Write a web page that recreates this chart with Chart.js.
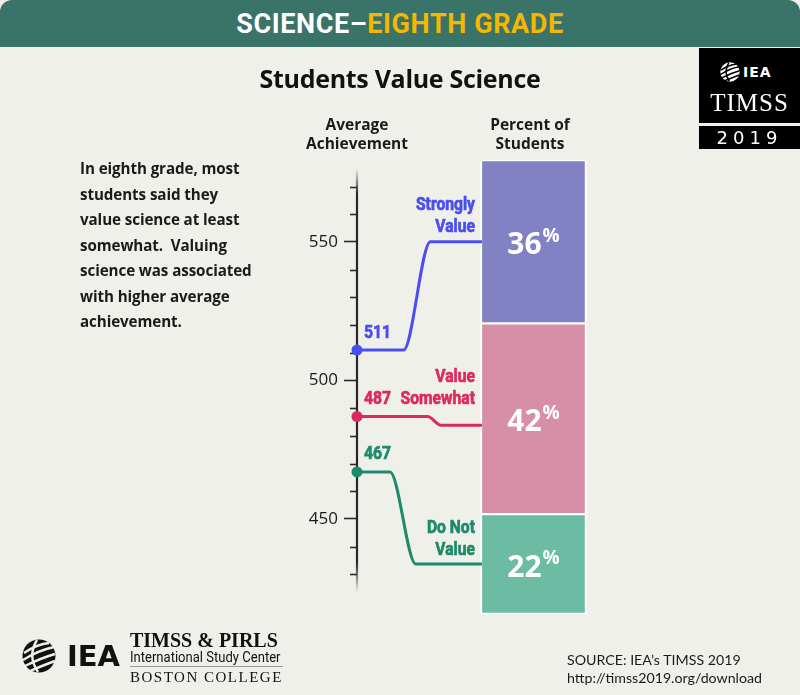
<!DOCTYPE html>
<html><head><meta charset="utf-8">
<script src="https://cdn.jsdelivr.net/npm/chart.js@4.4.1/dist/chart.umd.min.js"></script>
<style>
html,body{margin:0;padding:0;background:#f0f0eb;}
#wrap{position:relative;width:800px;height:695px;overflow:hidden;background:#f0f0eb;font-family:"Open Sans",sans-serif;color:#1a1a1a}
#chartBox{position:absolute;left:0;top:0;width:800px;height:695px}
.abs{position:absolute;white-space:nowrap}
#header{left:0;top:0;width:800px;height:47px;background:#3a7367;border-radius:12px 12px 0 0;text-align:center;line-height:48px;font-family:Roboto,sans-serif;font-weight:bold;font-size:27px;letter-spacing:0.6px;color:#fff}
#header .gold{color:#f6b700}
#title{left:0;width:800px;top:62px;text-align:center;font-weight:700;font-size:25px;line-height:32px;color:#111;letter-spacing:-0.3px}
.colhead{font-weight:700;font-size:15.5px;line-height:19px;text-align:center;width:160px;color:#1a1a1a}
#para{left:80px;top:156px;font-weight:700;font-size:15.2px;line-height:25.5px;color:#1a1a1a;letter-spacing:-0.1px}
#logoBox{left:699px;top:48px;width:101px;height:75px;background:#000;color:#fff}
#logoBox2{left:699px;top:126px;width:101px;height:23px;background:#000;color:#fff;text-align:center;font-family:"DejaVu Sans",sans-serif;font-size:18px;line-height:23px;letter-spacing:5px;font-weight:500}
#src{left:567px;top:651px;font-size:14.2px;line-height:18px;color:#1a1a1a;font-family:"Lato",sans-serif}
.narrow{display:inline-block;transform-origin:0 50%}
</style></head>
<body>
<div id="wrap">
  <div id="chartBox"><canvas id="c"></canvas></div>

  <div id="header" class="abs">SCIENCE–<span class="gold">EIGHTH GRADE</span></div>
  <div id="title" class="abs">Students Value Science</div>
  <div class="abs colhead" style="left:277px;top:115px">Average<br>Achievement</div>
  <div class="abs colhead" style="left:450px;top:115px">Percent of<br>Students</div>
  <div id="para" class="abs">In eighth grade, most<br>students said they<br>value science at least<br>somewhat.&nbsp; Valuing<br>science was associated<br>with higher average<br>achievement.</div>

  <div id="logoBox" class="abs">
    <svg class="abs" style="left:21px;top:14px" width="20" height="20" viewBox="-17 -17 34 34"><circle r="16.5" fill="#fff"/><g fill="none" stroke="#000" stroke-width="2.6"><path d="M-16,4 Q0,-6 15,-9"/><path d="M-14,10 Q2,2 16,-2"/><path d="M-9,15 Q5,9 16,5"/><path d="M-15,-3 Q-2,-12 10,-13"/><path d="M-2,-16 Q-12,0 -1,16"/></g></svg>
    <div class="abs" style="left:44px;top:14px;font-family:'DejaVu Sans',sans-serif;font-weight:bold;font-size:14px;line-height:20px;letter-spacing:1px">IEA</div>
    <div class="abs" style="left:0;width:101px;top:40px;text-align:center;font-family:'Liberation Serif',serif;font-size:25px;line-height:30px;letter-spacing:1px">TIMSS</div>
  </div>
  <div id="logoBox2" class="abs">2019</div>

  <svg class="abs" style="left:22px;top:639px" width="34" height="34" viewBox="-17 -17 34 34"><circle r="16.5" fill="#111"/><g fill="none" stroke="#f0f0eb" stroke-width="2.4"><path d="M-16,4 Q0,-6 15,-9"/><path d="M-14,10 Q2,2 16,-2"/><path d="M-9,15 Q5,9 16,5"/><path d="M-15,-3 Q-2,-12 10,-13"/><path d="M-2,-16 Q-12,0 -1,16"/></g></svg>
  <div class="abs" style="left:67px;top:637px;font-family:'DejaVu Sans',sans-serif;font-weight:bold;font-size:29px;line-height:38px;color:#111">IEA</div>
  <div class="abs" style="left:130px;top:629px;font-family:'Liberation Serif',serif;font-weight:bold;font-size:20px;line-height:22px;color:#111">TIMSS &amp; PIRLS</div>
  <div class="abs" style="left:130px;top:650px;font-family:Roboto,sans-serif;font-size:14.5px;line-height:16px;color:#111"><span class="narrow" style="transform:scaleX(0.9)">International Study Center</span></div>
  <div class="abs" style="left:130px;top:666px;width:153px;height:1px;background:#999"></div>
  <div class="abs" style="left:130px;top:668px;font-family:'Liberation Serif',serif;font-size:15px;line-height:18px;letter-spacing:1.5px;color:#111">BOSTON COLLEGE</div>

  <div id="src" class="abs">SOURCE: IEA’s TIMSS 2019<br>http://timss2019.org/download</div>
</div>

<script>
// ---------------- data ----------------
const categories = ['Strongly Value', 'Value Somewhat', 'Do Not Value'];
const categoryLabelLines = [['Strongly', 'Value'], ['Value', 'Somewhat'], ['Do Not', 'Value']];
const achievement = [511, 487, 467];
const percentStudents = [36, 42, 22];
const achievementTickLabels = [450, 500, 550];

// ---------------- style / layout ----------------
const lineColors = ['#4a4ef0', '#dc2a60', '#1d8a6a'];
const barColors = ['#8181c4', '#d68fa7', '#6bbca2'];
const A_MIN = 415.7, A_MAX = 579.6;          // achievement scale range across plot height
const AXIS_FROM = 423.5, AXIS_TO = 576.5;    // visible extent of axis line
const TICK_FROM = 430, TICK_TO = 570;
const BAR_X = 77.4;                          // layout x (0..100) of bar centre
const LINE_END_X = 54.8;                     // layout x where connectors meet bar
const bendX = [[20.4, 32.2], [31.0, 36.8], [14.5, 25.8]];
const endShift = [0, 1.4, 0];                // small vertical nudge (in %) of connector end
const NARROW_FONT = 'bold 18px Roboto, sans-serif';
const NARROW_K = 0.87;

const cum = [];
let acc = 0;
percentStudents.forEach(p => { cum.push([acc, acc + p]); acc += p; });
const pctToAch = pct => A_MAX - pct / 100 * (A_MAX - A_MIN);

const barSets = percentStudents.map((p, i) => ({
  type: 'bar', label: categories[i], xAxisID: 'x', yAxisID: 'yp',
  data: [{ x: BAR_X, y: cum[i] }],
  backgroundColor: barColors[i], borderColor: '#ffffff',
  borderWidth: { top: 1.5, bottom: 1.5, left: 2, right: 2 }, borderSkipped: false,
  barThickness: 106, grouped: false, clip: false, order: 2
}));

const lineSets = achievement.map((a, i) => {
  const endLevel = pctToAch((cum[i][0] + cum[i][1]) / 2 + endShift[i]);
  return {
    type: 'line', label: categories[i], xAxisID: 'x', yAxisID: 'ya',
    data: [{ x: 0, y: a }, { x: bendX[i][0], y: a }, { x: bendX[i][1], y: endLevel }, { x: LINE_END_X, y: endLevel }],
    borderColor: lineColors[i], borderWidth: 3, cubicInterpolationMode: 'monotone', fill: false,
    pointRadius: [5.5, 0, 0, 0], pointHoverRadius: 0, pointBackgroundColor: lineColors[i],
    pointBorderWidth: 0, clip: false, order: 1
  };
});

function narrowText(ctx, text, x, y, align) {
  ctx.save();
  ctx.translate(x, y);
  ctx.scale(NARROW_K, 1);
  ctx.textAlign = align;
  ctx.lineWidth = 0.7;
  ctx.lineJoin = 'round';
  ctx.strokeStyle = ctx.fillStyle;
  ctx.strokeText(text, 0, 0);
  ctx.fillText(text, 0, 0);
  ctx.restore();
}

const decor = {
  id: 'decor',
  beforeDatasetsDraw(chart) {
    const s = chart.scales.ya, ctx = chart.ctx, x = chart.chartArea.left;
    const y1 = s.getPixelForValue(AXIS_TO), y2 = s.getPixelForValue(AXIS_FROM);
    const g = ctx.createLinearGradient(0, y1, 0, y2);
    g.addColorStop(0, 'rgba(40,40,40,0)');
    g.addColorStop(0.06, 'rgba(40,40,40,1)');
    g.addColorStop(0.93, 'rgba(40,40,40,1)');
    g.addColorStop(1, 'rgba(40,40,40,0)');
    ctx.save();
    ctx.strokeStyle = g; ctx.lineWidth = 2.2;
    ctx.beginPath(); ctx.moveTo(x, y1); ctx.lineTo(x, y2); ctx.stroke();
    ctx.strokeStyle = '#2a2a2a'; ctx.lineWidth = 1.6;
    s.ticks.forEach(t => {
      if (achievementTickLabels.includes(t.value)) return;
      const y = Math.round(s.getPixelForValue(t.value)) + 0.5;
      ctx.beginPath(); ctx.moveTo(x - 7, y); ctx.lineTo(x, y); ctx.stroke();
    });
    ctx.restore();
  },
  afterDatasetsDraw(chart) {
    const ctx = chart.ctx;
    ctx.save();
    achievement.forEach((a, i) => {
      const lm = chart.getDatasetMeta(percentStudents.length + i);
      const p0 = lm.data[0], pe = lm.data[lm.data.length - 1];
      const bar = chart.getDatasetMeta(i).data[0];
      const barLeft = bar.x - bar.width / 2;
      // value label
      ctx.fillStyle = lineColors[i];
      ctx.font = NARROW_FONT;
      ctx.textBaseline = 'middle';
      narrowText(ctx, String(a), p0.x + 7, p0.y - 17, 'left');
      // category label
      const anchor = (i === 1) ? p0.y - 17 : pe.y - 14;
      const lines = categoryLabelLines[i];
      lines.forEach((t, k) => {
        narrowText(ctx, t, barLeft - 5.5, anchor - (lines.length - 1 - k) * 22, 'right');
      });
      // percent label
      const mid = (bar.y + bar.base) / 2 + 2;
      ctx.fillStyle = '#ffffff';
      ctx.font = 'bold 30px "Open Sans",sans-serif';
      const num = String(percentStudents[i]);
      const wNum = ctx.measureText(num).width;
      ctx.font = 'bold 19px "Open Sans",sans-serif';
      const wPct = ctx.measureText('%').width;
      const startX = bar.x - (wNum + wPct + 1) / 2;
      ctx.textAlign = 'left'; ctx.textBaseline = 'alphabetic';
      ctx.font = 'bold 30px "Open Sans",sans-serif';
      ctx.fillText(num, startX, mid + 10.5);
      ctx.font = 'bold 19px "Open Sans",sans-serif';
      ctx.fillText('%', startX + wNum + 1, mid - 2);
    });
    ctx.restore();
  }
};

new Chart(document.getElementById('c'), {
  type: 'bar',
  data: { datasets: [...barSets, ...lineSets] },
  options: {
    responsive: true, maintainAspectRatio: false, animation: false, events: [],
    layout: { padding: { left: 297, top: 160, right: 215, bottom: 81 } },
    plugins: { legend: { display: false }, tooltip: { enabled: false } },
    scales: {
      x: { type: 'linear', min: 0, max: 100, display: false, offset: false },
      ya: {
        type: 'linear', position: 'left', min: A_MIN, max: A_MAX,
        afterFit(s) { s.width = 60; },
        afterBuildTicks(s) { s.ticks = s.ticks.filter(t => t.value >= TICK_FROM - 1e-6 && t.value <= TICK_TO + 1e-6); },
        ticks: {
          stepSize: 10, includeBounds: false, autoSkip: false, padding: 6, color: '#1a1a1a',
          font: { family: '"Open Sans",sans-serif', size: 17 },
          callback: v => achievementTickLabels.includes(v) ? String(v) : ''
        },
        grid: {
          display: true, drawOnChartArea: false, drawTicks: true, tickLength: 13, tickWidth: 1.6,
          tickColor: c => (c.tick && achievementTickLabels.includes(c.tick.value)) ? '#2a2a2a' : 'rgba(0,0,0,0)'
        },
        border: { display: false }
      },
      yp: { type: 'linear', display: false, min: 0, max: 100, reverse: true }
    }
  },
  plugins: [decor]
});
</script>
</body></html>
